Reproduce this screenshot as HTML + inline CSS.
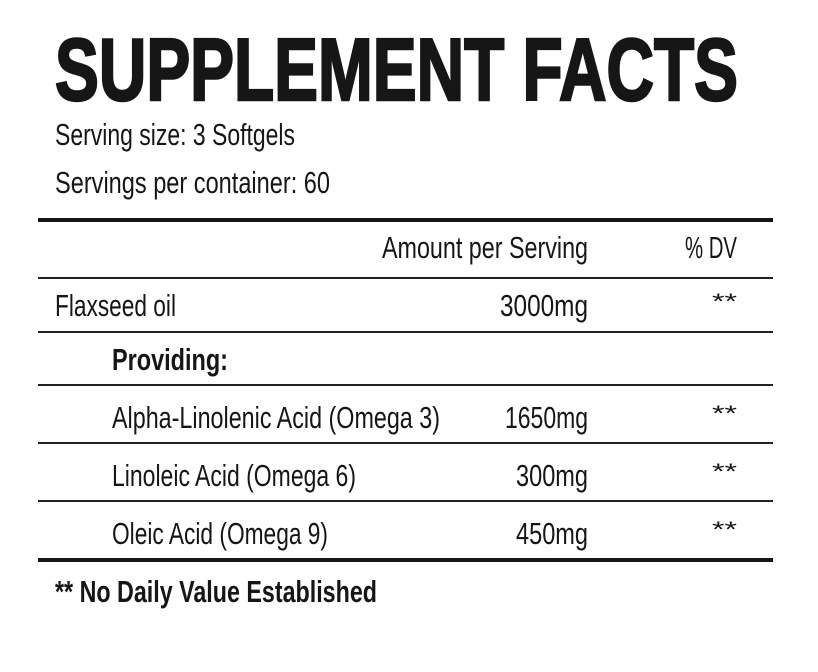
<!DOCTYPE html>
<html><head><style>
html,body{margin:0;padding:0;background:#fff;}
svg{display:block;}
text{font-family:"Liberation Sans",sans-serif;fill:#161616;}
</style></head><body>
<svg width="818" height="672" viewBox="0 0 818 672">
<text x="55" y="100" font-size="88" font-weight="bold" textLength="683" lengthAdjust="spacingAndGlyphs" stroke="#161616" stroke-width="2.5">SUPPLEMENT FACTS</text>
<text x="55" y="145" font-size="31" textLength="240" lengthAdjust="spacingAndGlyphs">Serving size: 3 Softgels</text>
<text x="55" y="193" font-size="31" textLength="275" lengthAdjust="spacingAndGlyphs">Servings per container: 60</text>
<rect x="38" y="218" width="735" height="4" fill="#161616"/>
<text x="382" y="258" font-size="31" textLength="206" lengthAdjust="spacingAndGlyphs">Amount per Serving</text>
<text x="685" y="258" font-size="31" textLength="52" lengthAdjust="spacingAndGlyphs">% DV</text>
<rect x="38" y="277" width="735" height="2" fill="#222"/>
<text x="55" y="316" font-size="31" textLength="121" lengthAdjust="spacingAndGlyphs">Flaxseed oil</text>
<text x="500" y="316" font-size="31" textLength="88" lengthAdjust="spacingAndGlyphs">3000mg</text>
<text x="712" y="309" font-size="22" textLength="25" lengthAdjust="spacingAndGlyphs">**</text>
<rect x="38" y="331" width="735" height="2" fill="#222"/>
<text x="112" y="370" font-size="31" font-weight="bold" textLength="116" lengthAdjust="spacingAndGlyphs">Providing:</text>
<rect x="38" y="384" width="735" height="2" fill="#222"/>
<text x="112" y="428" font-size="31" textLength="328" lengthAdjust="spacingAndGlyphs">Alpha-Linolenic Acid (Omega 3)</text>
<text x="505" y="428" font-size="31" textLength="83" lengthAdjust="spacingAndGlyphs">1650mg</text>
<text x="712" y="421" font-size="22" textLength="25" lengthAdjust="spacingAndGlyphs">**</text>
<rect x="38" y="442" width="735" height="2" fill="#222"/>
<text x="112" y="486" font-size="31" textLength="244" lengthAdjust="spacingAndGlyphs">Linoleic Acid (Omega 6)</text>
<text x="516" y="486" font-size="31" textLength="72" lengthAdjust="spacingAndGlyphs">300mg</text>
<text x="712" y="479" font-size="22" textLength="25" lengthAdjust="spacingAndGlyphs">**</text>
<rect x="38" y="500" width="735" height="2" fill="#222"/>
<text x="112" y="544" font-size="31" textLength="216" lengthAdjust="spacingAndGlyphs">Oleic Acid (Omega 9)</text>
<text x="516" y="544" font-size="31" textLength="72" lengthAdjust="spacingAndGlyphs">450mg</text>
<text x="712" y="537" font-size="22" textLength="25" lengthAdjust="spacingAndGlyphs">**</text>
<rect x="38" y="558" width="735" height="4" fill="#161616"/>
<text x="55" y="602" font-size="31" font-weight="bold" textLength="322" lengthAdjust="spacingAndGlyphs">** No Daily Value Established</text>
</svg>
</body></html>
